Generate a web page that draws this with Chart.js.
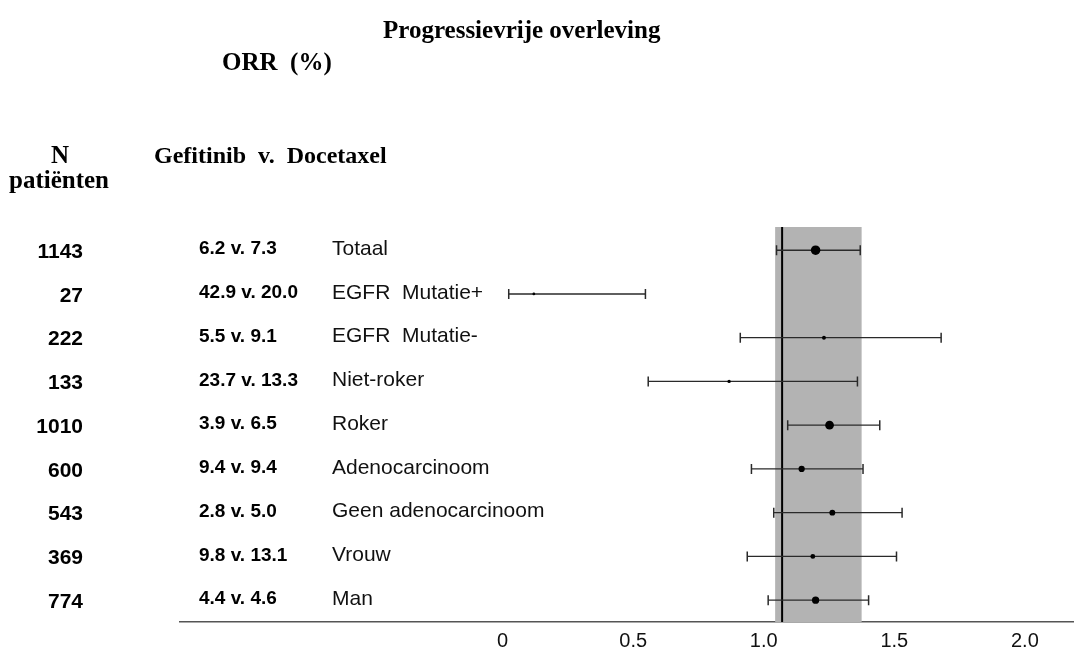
<!DOCTYPE html>
<html lang="nl">

<head>
    <meta charset="UTF-8">
    <title>Progressievrije overleving</title>
    <style>
        html, body { margin: 0; padding: 0; background: #fff; }
        .wrapper { position: relative; width: 1080px; height: 648px; }
    </style>
</head>

<body>
    <div class="wrapper">
        <canvas id="chart" width="1080" height="648"></canvas>
    </div>
    <script src="https://cdn.jsdelivr.net/npm/chart.js@4"></script>
    <script>
        // rows, top to bottom
        const subgroups = ["Totaal", "EGFR  Mutatie+", "EGFR  Mutatie-", "Niet-roker", "Roker",
            "Adenocarcinoom", "Geen adenocarcinoom", "Vrouw", "Man"];
        const nPatients = [1143, 27, 222, 133, 1010, 600, 543, 369, 774];
        const orr = ["6.2 v. 7.3", "42.9 v. 20.0", "5.5 v. 9.1", "23.7 v. 13.3", "3.9 v. 6.5",
            "9.4 v. 9.4", "2.8 v. 5.0", "9.8 v. 13.1", "4.4 v. 4.6"];
        const hazard = [1.12, 0.11, 1.15, 0.81, 1.17, 1.07, 1.18, 1.11, 1.12];
        const ciLow = [0.98, 0.02, 0.85, 0.52, 1.02, 0.89, 0.97, 0.875, 0.95];
        const ciHigh = [1.28, 0.51, 1.57, 1.27, 1.35, 1.29, 1.43, 1.41, 1.31];
        const band = [0.975, 1.285];   // grey band, overall CI
        const refLine = 1.0;
        const xTicks = [0, 0.5, 1.0, 1.5, 2.0];

        const SANS = '"Liberation Sans", Arial, sans-serif';
        const SERIF = '"Liberation Serif", "Times New Roman", serif';

        const ciSets = subgroups.map((s, i) => ({
            type: "line",
            label: s,
            data: [{ x: ciLow[i], y: i + 1 }, { x: ciHigh[i], y: i + 1 }],
            borderColor: "#2a2a2a",
            borderWidth: 1.4,
            pointStyle: "line",
            pointRotation: 90,
            pointRadius: 5,
            pointBorderColor: "#2a2a2a",
            pointBorderWidth: 1.5,
            fill: false,
            order: 2
        }));

        const pointSet = {
            type: "scatter",
            label: "HR",
            data: hazard.map((h, i) => ({ x: h, y: i + 1 })),
            // marker size grows with group size
            pointRadius: nPatients.map(n => 1.3 + n / 330),
            backgroundColor: "#000",
            borderColor: "#000",
            pointBorderWidth: 0,
            order: 1
        };

        const backdrop = {
            id: "backdrop",
            beforeDatasetsDraw(chart) {
                const { ctx, chartArea, scales: { x } } = chart;
                const x0 = x.getPixelForValue(band[0]);
                const x1 = x.getPixelForValue(band[1]);
                ctx.save();
                ctx.fillStyle = "#b3b3b3";
                ctx.fillRect(x0, chartArea.top, x1 - x0, chartArea.bottom - chartArea.top);
                const xr = x.getPixelForValue(refLine);
                ctx.strokeStyle = "#000";
                ctx.lineWidth = 2;
                ctx.beginPath();
                ctx.moveTo(xr, chartArea.top);
                ctx.lineTo(xr, chartArea.bottom);
                ctx.stroke();
                ctx.restore();
            }
        };

        const textColumns = {
            id: "textColumns",
            afterDraw(chart) {
                const { ctx, scales: { y } } = chart;
                ctx.save();
                ctx.fillStyle = "#000";
                ctx.textBaseline = "middle";
                subgroups.forEach((s, i) => {
                    const py = y.getPixelForValue(i + 1);
                    ctx.fillStyle = "#000";
                    ctx.font = "bold 21px " + SANS;
                    ctx.textAlign = "right";
                    ctx.fillText(String(nPatients[i]), 83, py + 2);
                    ctx.font = "bold 19px " + SANS;
                    ctx.textAlign = "left";
                    ctx.fillText(orr[i], 199, py - 1);
                    ctx.font = "21px " + SANS;
                    ctx.fillStyle = "#111";
                    ctx.fillText(s, 332, py - 1);
                });

                // headers
                ctx.fillStyle = "#000";
                ctx.textBaseline = "alphabetic";
                ctx.textAlign = "left";
                ctx.font = "bold 25px " + SERIF;
                ctx.fillText("Progressievrije overleving", 383, 38);
                ctx.fillText("ORR  (%)", 222, 70);
                ctx.font = "bold 24px " + SERIF;
                ctx.fillText("Gefitinib  v.  Docetaxel", 154, 163);
                ctx.font = "bold 25px " + SERIF;
                ctx.textAlign = "center";
                ctx.fillText("N", 60, 163);
                ctx.fillText("patiënten", 59, 188);
                ctx.restore();
            }
        };

        const chart = new Chart(document.getElementById("chart"), {
            data: { datasets: [pointSet, ...ciSets] },
            options: {
                responsive: false,
                devicePixelRatio: 1,
                animation: false,
                layout: { padding: { left: 180, right: 0, top: 227, bottom: 0 } },
                plugins: { legend: { display: false }, tooltip: { enabled: false } },
                scales: {
                    // value scale of the marks
                    x: { type: "linear", min: -1.1584, max: 2.0445, display: false },
                    // printed axis (drawn slightly offset from the marks in the original figure)
                    xt: {
                        type: "linear",
                        axis: "x",
                        position: "bottom",
                        min: -1.2357,
                        max: 2.1863,
                        afterBuildTicks: s => { s.ticks = xTicks.map(v => ({ value: v })); },
                        afterFit: s => { s.height = 26; },
                        ticks: {
                            callback: v => (v === 0 ? "0" : v.toFixed(1)),
                            font: { family: SANS, size: 20 },
                            color: "#111",
                            padding: 7,
                            maxRotation: 0,
                            autoSkip: false
                        },
                        grid: { drawOnChartArea: false, drawTicks: false },
                        border: { display: true, color: "#555", width: 1.5 }
                    },
                    y: { type: "linear", min: 0.47, max: 9.5, reverse: true, display: false }
                }
            },
            plugins: [backdrop, textColumns]
        });
    </script>
</body>

</html>
